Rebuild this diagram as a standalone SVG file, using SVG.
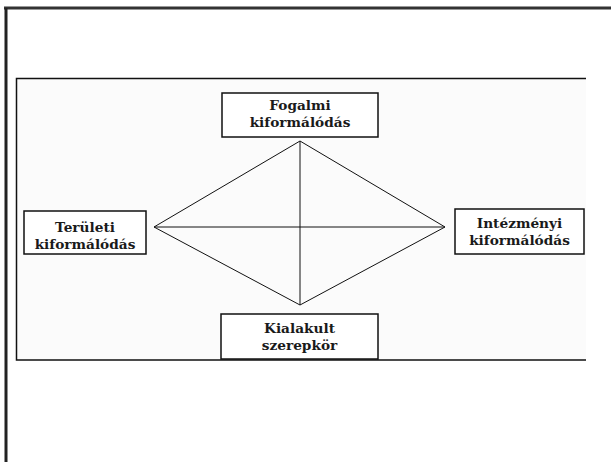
<svg xmlns="http://www.w3.org/2000/svg" width="611" height="462" viewBox="0 0 611 462">
<style>
.box{fill:#ffffff;stroke:#111;stroke-width:1.5}
.t{font-family:"DejaVu Serif","Liberation Serif",serif;font-weight:bold;font-size:13.7px;fill:#1a1a1a;text-anchor:middle}
.c{stroke:#111;stroke-width:1;fill:none}
</style>
<rect width="611" height="462" fill="#ffffff"/>
<g id="frame">
<line x1="4" y1="8" x2="611" y2="8" stroke="#333" stroke-width="3"/>
<line x1="6" y1="8" x2="6" y2="462" stroke="#222" stroke-width="3"/>
<rect x="16" y="78" width="570" height="282" fill="#fbfbfb"/>
<polyline points="586,78.5 16.5,78.5 16.5,360 586,360" fill="none" stroke="#111" stroke-width="1.5"/>
</g>
<g id="connectors">
<polygon class="c" points="300,141 154,227 300,305 445,227"/>
<line class="c" x1="300" y1="141" x2="300" y2="305"/>
<line class="c" x1="154" y1="227" x2="445" y2="227"/>
</g>
<g id="n-fogalmi">
<rect class="box" x="222" y="93" width="156" height="44"/>
<text class="t" x="300" y="110">Fogalmi</text>
<text class="t" x="300" y="127">kiformálódás</text>
</g>
<g id="n-teruleti">
<rect class="box" x="24" y="211" width="122" height="43"/>
<text class="t" x="85" y="232">Területi</text>
<text class="t" x="85" y="249">kiformálódás</text>
</g>
<g id="n-intezmenyi">
<rect class="box" x="455" y="209" width="129" height="45"/>
<text class="t" x="519.5" y="228">Intézményi</text>
<text class="t" x="519.5" y="245">kiformálódás</text>
</g>
<g id="n-kialakult">
<rect class="box" x="221" y="314" width="157" height="45"/>
<text class="t" x="299.5" y="333">Kialakult</text>
<text class="t" x="299.5" y="350">szerepkör</text>
</g>
</svg>
